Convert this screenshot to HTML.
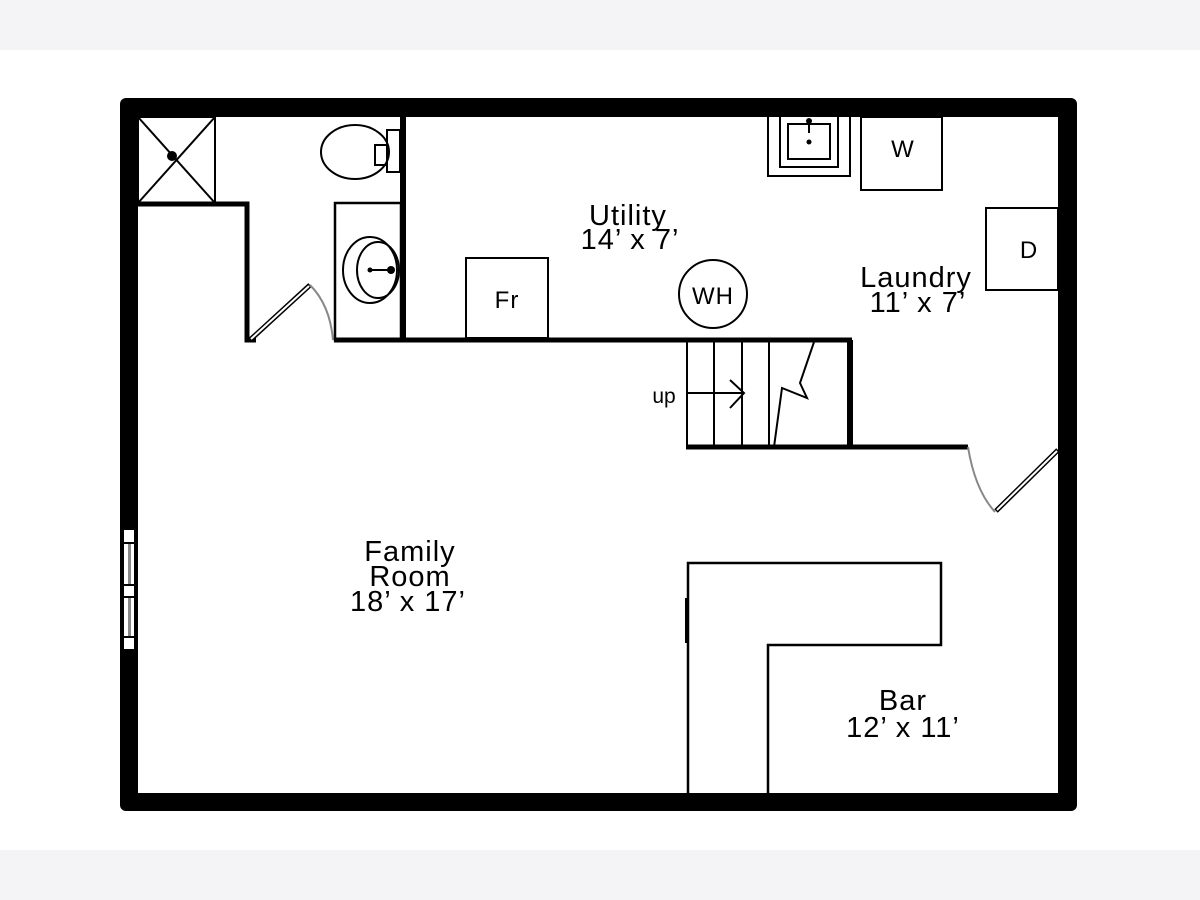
<!DOCTYPE html>
<html><head><style>
html,body{margin:0;padding:0;background:#f4f4f6;}
svg{display:block;}
text{font-family:"Liberation Sans",sans-serif;fill:#000;}
</style></head><body>
<svg width="1200" height="900" viewBox="0 0 1200 900" xmlns="http://www.w3.org/2000/svg">
<rect x="0" y="0" width="1200" height="900" fill="#f4f4f6"/>
<rect x="0" y="50" width="1200" height="800" fill="#fff"/>
<rect x="120" y="98" width="957" height="713" rx="6" fill="#000"/>
<rect x="138" y="117" width="920" height="676" fill="#fff"/>
<rect x="124" y="530" width="10" height="12" fill="#fff"/>
<rect x="124" y="544" width="10" height="40" fill="#fff"/>
<rect x="128" y="544" width="3" height="40" fill="#888"/>
<rect x="124" y="586" width="10" height="10" fill="#fff"/>
<rect x="124" y="598" width="10" height="38" fill="#fff"/>
<rect x="128" y="598" width="3" height="38" fill="#888"/>
<rect x="124" y="638" width="10" height="11" fill="#fff"/>
<g fill="none" stroke="#000">
<rect x="138" y="117" width="77" height="86" stroke-width="2"/>
<line x1="138" y1="117" x2="215" y2="203" stroke-width="2"/>
<line x1="215" y1="117" x2="138" y2="203" stroke-width="2"/>
<polyline points="138,204 247,204 247,340 256,340" stroke-width="5"/>
<line x1="403" y1="117" x2="403" y2="340" stroke-width="6"/>
<line x1="334" y1="340" x2="852" y2="340" stroke-width="5"/>
<line x1="250" y1="340" x2="310" y2="285" stroke-width="5"/>
<line x1="251" y1="339" x2="309" y2="286" stroke="#fff" stroke-width="2"/>
<path d="M310,285 Q330,305 333,340" stroke="#888" stroke-width="2"/>
<rect x="335" y="203" width="66" height="137" stroke-width="2.5"/>
<ellipse cx="370" cy="270" rx="27" ry="33" stroke-width="2"/>
<ellipse cx="378" cy="270" rx="21" ry="28" stroke-width="2"/>
<line x1="370" y1="270" x2="390" y2="270" stroke-width="2"/>
<ellipse cx="355" cy="152" rx="34" ry="27" stroke-width="2"/>
<rect x="387" y="130" width="13" height="42" stroke-width="2"/>
<rect x="375" y="145" width="12" height="20" stroke-width="2"/>
<rect x="466" y="258" width="82" height="80" stroke-width="2"/>
<circle cx="713" cy="294" r="34" stroke-width="2"/>
<rect x="768" y="100" width="82" height="76" stroke-width="2"/>
<rect x="780" y="100" width="58" height="67" stroke-width="2"/>
<rect x="788" y="124" width="42" height="35" stroke-width="2"/>
<line x1="809" y1="122" x2="809" y2="133" stroke-width="2"/>
<rect x="861" y="117" width="81" height="73" stroke-width="2"/>
<rect x="986" y="208" width="72" height="82" stroke-width="2"/>
<line x1="850" y1="340" x2="850" y2="448" stroke-width="6"/>
<line x1="686" y1="447" x2="968" y2="447" stroke-width="5"/>
<line x1="687" y1="340" x2="687" y2="447" stroke-width="2"/>
<line x1="714" y1="340" x2="714" y2="447" stroke-width="2"/>
<line x1="742" y1="340" x2="742" y2="447" stroke-width="2"/>
<line x1="769" y1="340" x2="769" y2="447" stroke-width="2"/>
<polyline points="814,342 800,383 807,398 782,388 774,447" stroke-width="2"/>
<line x1="687" y1="393" x2="744" y2="393" stroke-width="2"/>
<polyline points="730,380 744,393 730,408" stroke-width="2"/>
<path d="M968,447 Q975,490 995,512" stroke="#888" stroke-width="2"/>
<line x1="996" y1="511" x2="1058" y2="450" stroke-width="5"/>
<line x1="997" y1="510" x2="1057" y2="451" stroke="#fff" stroke-width="2"/>
<polyline points="688,793 688,563 941,563 941,645 768,645 768,793" stroke-width="2.5"/>
<line x1="687" y1="598" x2="687" y2="643" stroke-width="4"/>
</g>
<circle cx="172" cy="156" r="5" fill="#000"/>
<circle cx="370" cy="270" r="2.5" fill="#000"/>
<circle cx="391" cy="270" r="4" fill="#000"/>
<circle cx="809" cy="121" r="3" fill="#000"/>
<circle cx="809" cy="142" r="2.5" fill="#000"/>
<g font-size="29" text-anchor="middle" letter-spacing="1">
<text x="507" y="308" font-size="24">Fr</text>
<text x="713" y="304" font-size="24">WH</text>
<text x="903" y="157" font-size="24">W</text>
<text x="1029" y="258" font-size="24">D</text>
<text x="628" y="225">Utility</text>
<text x="630" y="249">14’ x 7’</text>
<text x="916" y="287">Laundry</text>
<text x="918" y="312">11’ x 7’</text>
<text x="410" y="561">Family</text>
<text x="410" y="586">Room</text>
<text x="408" y="611">18’ x 17’</text>
<text x="903" y="710">Bar</text>
<text x="903" y="737">12’ x 11’</text>
<text x="664" y="403" font-size="21" letter-spacing="0">up</text>
</g>
</svg>
</body></html>
